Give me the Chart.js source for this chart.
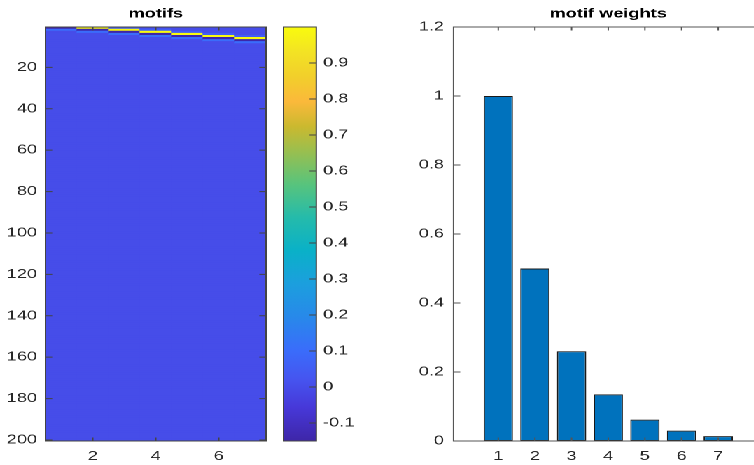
<!DOCTYPE html>
<html>
<head>
<meta charset="utf-8">
<script src="https://cdn.jsdelivr.net/npm/chart.js@4.4.0/dist/chart.umd.min.js"></script>
<style>
  html, body { margin: 0; padding: 0; background: #fff; overflow: hidden; }
  /* the source figure is stretched sideways, so the whole page is too */
  #figure { position: absolute; left: 0; top: 0; width: 560px; height: 465px; transform: scaleX(1.4); transform-origin: 0 0; }
  .panel { position: absolute; top: 0; height: 465px; }
</style>
</head>
<body>
<div id="figure">
  <div class="panel" style="left:0;width:200px"><canvas id="motifChart" width="200" height="465"></canvas></div>
  <div class="panel" style="left:195px;width:60px"><canvas id="colorbarChart" width="60" height="465"></canvas></div>
  <div class="panel" style="left:255px;width:300px"><canvas id="weightChart" width="300" height="465"></canvas></div>
</div>
<script>
// motif matrix: 200 samples x 7 motifs, flat except a short pulse near the top
const motifIds = [1, 2, 3, 4, 5, 6, 7];
const sampleCount = 200;
const baseValue = 0;
const peakRows = [0, 1, 2, 3, 4, 5, 6];   // motif 1 peaks just above the first sample
const pulseOffsets = [-1, 0, 1, 2];
const pulseValues = [0.05, 1.0, -0.15, 0.1];

// motif weights (bar chart)
const weights = [1.0, 0.5, 0.26, 0.135, 0.062, 0.03, 0.014];

// tick labels
const motifXTicks = [2, 4, 6];
const motifYTicks = [20, 40, 60, 80, 100, 120, 140, 160, 180, 200];
const colorLimits = [-0.15, 1.0];
const colorTicks = [-0.1, 0, 0.1, 0.2, 0.3, 0.4, 0.5, 0.6, 0.7, 0.8, 0.9];
const weightYTicks = [0, 0.2, 0.4, 0.6, 0.8, 1, 1.2];

// parula-like colormap
const parula = [
  [0.00, [62, 38, 168]],
  [0.08, [71, 56, 216]],
  [0.15, [70, 85, 240]],
  [0.22, [58, 109, 251]],
  [0.30, [40, 137, 234]],
  [0.38, [28, 159, 222]],
  [0.46, [10, 177, 200]],
  [0.54, [37, 187, 171]],
  [0.62, [88, 196, 125]],
  [0.70, [154, 191, 79]],
  [0.76, [203, 185, 47]],
  [0.82, [251, 185, 59]],
  [0.88, [242, 207, 43]],
  [0.94, [243, 227, 36]],
  [1.00, [249, 251, 14]]
];

function colorAt(t) {
  t = Math.max(0, Math.min(1, t));
  for (let i = 1; i < parula.length; i++) {
    if (t <= parula[i][0]) {
      const [t0, c0] = parula[i - 1];
      const [t1, c1] = parula[i];
      const f = (t - t0) / (t1 - t0);
      const c = c0.map((v, k) => Math.round(v + (c1[k] - v) * f));
      return `rgb(${c[0]},${c[1]},${c[2]})`;
    }
  }
  return 'rgb(249,251,14)';
}
function colorFor(v) {
  return colorAt((v - colorLimits[0]) / (colorLimits[1] - colorLimits[0]));
}

const FONT = 'Liberation Sans, Arial, Helvetica, sans-serif';
const TEXT = '#262626';
Chart.defaults.font.family = FONT;
Chart.defaults.font.size = 13;
Chart.defaults.color = TEXT;

// matlab style box with inward ticks
const matFrame = {
  id: 'matFrame',
  afterDatasetsDraw(chart, args, opts) {
    const { ctx, chartArea: a } = chart;
    ctx.save();
    ctx.strokeStyle = opts.color || '#444';
    ctx.lineWidth = 1;
    ctx.strokeRect(a.left, a.top, a.right - a.left, a.bottom - a.top);
    ctx.beginPath();
    const xs = chart.scales.x, ys = chart.scales.y;
    if (opts.xLen) {
      xs.ticks.forEach(t => {
        const p = xs.getPixelForValue(t.value);
        ctx.moveTo(p, a.bottom); ctx.lineTo(p, a.bottom - opts.xLen);
        ctx.moveTo(p, a.top); ctx.lineTo(p, a.top + opts.xLen);
      });
    }
    if (opts.yLen) {
      ys.ticks.forEach(t => {
        const p = ys.getPixelForValue(t.value);
        if (opts.ySides.includes('left')) { ctx.moveTo(a.left, p); ctx.lineTo(a.left + opts.yLen, p); }
        if (opts.ySides.includes('right')) { ctx.moveTo(a.right, p); ctx.lineTo(a.right - opts.yLen, p); }
      });
    }
    ctx.stroke();
    ctx.restore();
  }
};

function fixedTicks(list) {
  return scale => { scale.ticks = list.map(v => ({ value: v })); };
}
function fixedWidth(w) {
  return scale => { scale.width = w; };
}
function fixedHeight(h) {
  return scale => { scale.height = h; };
}
const titleOpts = text => ({
  display: true, text, fullSize: false, color: '#000',
  font: { size: 13, weight: 'bold' }, padding: { top: 6, bottom: 5.4 }
});

// Motifs heatmap
const cells = [];
motifIds.forEach((m, i) => {
  for (let r = 1; r <= sampleCount; r++) {
    const k = pulseOffsets.indexOf(r - peakRows[i]);
    cells.push({ x: m, y: [r - 0.5, r + 0.5], v: k >= 0 ? pulseValues[k] : baseValue });
  }
});

new Chart(document.getElementById('motifChart'), {
  type: 'bar',
  data: {
    datasets: [{
      data: cells,
      backgroundColor: c => colorFor(c.raw.v),
      borderWidth: 0,
      barPercentage: 1,
      categoryPercentage: 1
    }]
  },
  options: {
    responsive: false,
    devicePixelRatio: 2,
    animation: false,
    events: [],
    layout: { padding: { left: 0, right: 10, top: 0, bottom: 0 } },
    plugins: {
      legend: { display: false },
      tooltip: { enabled: false },
      title: titleOpts('motifs'),
      matFrame: { xLen: 3.5, yLen: 4.8, ySides: ['left', 'right'], color: '#444' }
    },
    scales: {
      x: {
        type: 'linear', min: 0.5, max: 7.5, offset: false,
        grid: { display: false, drawTicks: false }, border: { display: false },
        ticks: { padding: 7.7, callback: v => String(v) },
        afterBuildTicks: fixedTicks(motifXTicks),
        afterFit: fixedHeight(24)
      },
      y: {
        type: 'linear', reverse: true, min: 0.5, max: 200.5,
        grid: { display: false, drawTicks: false }, border: { display: false },
        ticks: { padding: 6, callback: v => String(v) },
        afterBuildTicks: fixedTicks(motifYTicks),
        afterFit: fixedWidth(32.5)
      }
    }
  },
  plugins: [matFrame]
});

// Colorbar
new Chart(document.getElementById('colorbarChart'), {
  type: 'bar',
  data: {
    labels: [''],
    datasets: [{
      data: [colorLimits],
      backgroundColor: c => {
        const a = c.chart.chartArea;
        if (!a) return colorFor(0);
        const g = c.chart.ctx.createLinearGradient(0, a.bottom, 0, a.top);
        parula.forEach(([t, rgb]) => g.addColorStop(t, `rgb(${rgb.join(',')})`));
        return g;
      },
      borderWidth: 0,
      barPercentage: 1,
      categoryPercentage: 1
    }]
  },
  options: {
    responsive: false,
    devicePixelRatio: 2,
    animation: false,
    events: [],
    layout: { padding: { left: 7.5, right: 0, top: 27, bottom: 24 } },
    plugins: {
      legend: { display: false },
      tooltip: { enabled: false },
      matFrame: { yLen: 4.8, ySides: ['right'], color: '#444' }
    },
    scales: {
      x: { display: false },
      y: {
        type: 'linear', position: 'right', min: colorLimits[0], max: colorLimits[1],
        grid: { display: false, drawTicks: false }, border: { display: false },
        ticks: { padding: 4.8, callback: v => String(v) },
        afterBuildTicks: fixedTicks(colorTicks),
        afterFit: fixedWidth(29.1)
      }
    }
  },
  plugins: [matFrame]
});

// Motif weights bar chart
new Chart(document.getElementById('weightChart'), {
  type: 'bar',
  data: {
    datasets: [{
      data: weights.map((w, i) => ({ x: motifIds[i], y: w })),
      backgroundColor: '#0072bd',
      borderColor: '#1a1a1a',
      borderWidth: 1,
      borderSkipped: false,
      barPercentage: 0.8,
      categoryPercentage: 1
    }]
  },
  options: {
    responsive: false,
    devicePixelRatio: 2,
    animation: false,
    events: [],
    layout: { padding: { left: 0, right: 10, top: 0, bottom: 0 } },
    plugins: {
      legend: { display: false },
      tooltip: { enabled: false },
      title: titleOpts('motif weights'),
      matFrame: { xLen: 3.5, yLen: 4.8, ySides: ['left', 'right'], color: '#555' }
    },
    scales: {
      x: {
        type: 'linear', min: -0.22, max: 8.22, offset: false,
        grid: { display: false, drawTicks: false }, border: { display: false },
        ticks: { padding: 7.7, callback: v => String(v) },
        afterBuildTicks: fixedTicks(motifIds),
        afterFit: fixedHeight(24)
      },
      y: {
        type: 'linear', min: 0, max: 1.2,
        grid: { display: false, drawTicks: false }, border: { display: false },
        ticks: { padding: 6.8, callback: v => String(v) },
        afterBuildTicks: fixedTicks(weightYTicks),
        afterFit: fixedWidth(68.95)
      }
    }
  },
  plugins: [matFrame]
});
</script>
</body>
</html>
